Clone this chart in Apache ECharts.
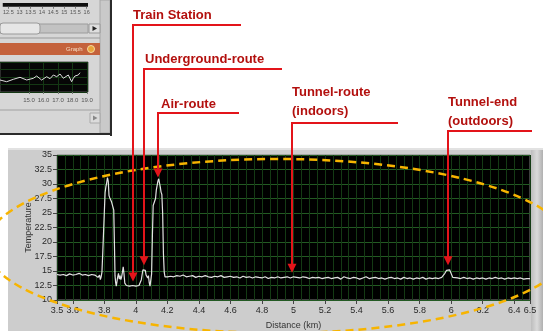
<!DOCTYPE html>
<html>
<head>
<meta charset="utf-8">
<script src="https://cdn.jsdelivr.net/npm/echarts@6/dist/echarts.min.js"></script>
<style>
  html, body { margin: 0; padding: 0; background: #ffffff; }
  #chart { width: 543px; height: 331px; }
</style>
</head>
<body>
<div id="chart"></div>
<script>
// Temperature trace along the route (distance in km, temperature in °C)
const distanceKm = [
  3.50, 3.52, 3.54, 3.56, 3.58, 3.60, 3.62, 3.64, 3.66, 3.68,
  3.70, 3.72, 3.74, 3.76, 3.77, 3.775, 3.78, 3.785, 3.79, 3.80,
  3.805, 3.81, 3.815, 3.82, 3.825, 3.83, 3.835, 3.84, 3.845, 3.85,
  3.855, 3.86, 3.864, 3.868, 3.872, 3.876, 3.88, 3.885, 3.89, 3.895,
  3.90, 3.905, 3.91, 3.915, 3.92, 3.925, 3.93, 3.935, 3.94, 3.95,
  3.96, 3.97, 3.98, 3.99, 4.00, 4.01, 4.02, 4.03, 4.035, 4.04,
  4.045, 4.05, 4.055, 4.06, 4.065, 4.07, 4.075, 4.08, 4.085, 4.09,
  4.095, 4.10, 4.105, 4.11, 4.115, 4.12, 4.125, 4.13, 4.135, 4.14,
  4.145, 4.15, 4.155, 4.16, 4.165, 4.17, 4.175, 4.18, 4.185, 4.19,
  4.20, 4.22, 4.24, 4.26, 4.28, 4.30, 4.32, 4.34, 4.36, 4.38,
  4.40, 4.42, 4.44, 4.46, 4.48, 4.50, 4.52, 4.54, 4.56, 4.58,
  4.60, 4.62, 4.64, 4.66, 4.68, 4.70, 4.72, 4.74, 4.76, 4.78,
  4.80, 4.82, 4.84, 4.86, 4.88, 4.90, 4.92, 4.94, 4.96, 4.98,
  5.00, 5.02, 5.04, 5.06, 5.08, 5.10, 5.12, 5.14, 5.16, 5.18,
  5.20, 5.22, 5.24, 5.26, 5.28, 5.30, 5.32, 5.34, 5.36, 5.38,
  5.40, 5.42, 5.44, 5.46, 5.48, 5.50, 5.52, 5.54, 5.56, 5.58,
  5.60, 5.62, 5.64, 5.66, 5.68, 5.70, 5.72, 5.74, 5.76, 5.78,
  5.80, 5.82, 5.84, 5.86, 5.88, 5.90, 5.92, 5.94, 5.95, 5.96,
  5.97, 5.98, 5.99, 6.00, 6.01, 6.02, 6.04, 6.06, 6.08, 6.10,
  6.12, 6.14, 6.16, 6.18, 6.20, 6.22, 6.24, 6.26, 6.28, 6.30,
  6.32, 6.34, 6.36, 6.38, 6.40, 6.42, 6.44, 6.46, 6.48, 6.50
];
const temperatureC = [
  14.4, 14.3, 14.4, 14.2, 14.5, 14.3, 14.4, 14.6, 14.3, 14.4,
  14.2, 14.4, 14.3, 13.9, 14.3, 13.5, 14.0, 14.8, 18.0, 25.0,
  28.5, 29.5, 30.2, 31.1, 30.5, 28.0, 27.6, 27.8, 27.0, 27.2,
  26.0, 25.5, 20.0, 14.2, 13.0, 12.4, 12.5, 14.0, 14.6, 13.6,
  14.2, 13.5, 14.0, 14.8, 15.7, 14.5, 12.9, 12.6, 12.5, 12.6,
  12.4, 12.6, 12.5, 12.6, 12.4, 12.6, 12.5, 12.4, 13.5, 14.4,
  15.2, 15.0, 15.5, 15.1, 14.3, 14.6, 13.8, 14.2, 13.0, 12.4,
  12.3, 14.5, 21.0, 26.3, 26.6, 26.1, 27.5, 29.0, 29.3, 30.5,
  30.9, 30.2, 29.5, 28.6, 28.2, 25.0, 18.0, 14.8, 14.0, 14.3,
  14.0, 14.1, 14.0, 14.2, 14.1, 14.3, 14.0, 14.1, 14.2, 13.9,
  14.1, 14.0, 14.2, 14.0, 13.9, 14.1, 14.0, 14.2, 13.9, 14.0,
  14.1, 13.9, 14.0, 13.8, 14.1, 13.9, 14.0, 13.8, 14.0, 13.9,
  13.8, 14.0, 13.7, 13.9, 13.8, 14.0, 13.8, 13.9, 14.0, 13.8,
  14.0, 13.9, 13.8, 14.0, 13.9, 13.7, 13.9, 13.8, 13.9, 13.7,
  13.8, 13.9, 13.7, 13.8, 13.9, 13.6, 14.0, 13.8, 13.7, 13.9,
  13.8, 13.6, 13.8, 14.0, 13.7, 13.8, 13.9, 13.7, 13.8, 13.6,
  13.8, 13.9, 13.7, 13.8, 13.6, 13.9, 13.7, 13.8, 13.6, 13.8,
  13.7, 13.9, 13.6, 13.8, 13.7, 13.8, 13.7, 13.9, 14.0, 14.6,
  15.1, 14.8, 15.2, 15.0, 13.9, 13.6, 13.8, 13.7, 13.9, 13.7,
  13.8, 13.6, 13.8, 13.7, 13.8, 13.6, 13.8, 13.7, 13.9, 13.7,
  13.8, 13.6, 13.8, 13.7, 13.8, 13.7, 13.8, 13.6, 13.7, 13.7
];
const distanceTicks = [3.5, 3.6, 3.8, 4, 4.2, 4.4, 4.6, 4.8, 5, 5.2, 5.4, 5.6, 5.8, 6, 6.2, 6.4, 6.5];

// Callouts: text, distance of the arrow and the temperature its tip points to
const calloutTexts = ['Train Station', 'Underground-route', 'Air-route', 'Tunnel-route\n(indoors)', 'Tunnel-end\n(outdoors)'];
const calloutKm = [3.984, 4.054, 4.143, 4.99, 5.978];
const calloutTipC = [13.2, 16.0, 31.1, 14.7, 16.0];

// Small preview window (top left): its tick labels and wave
const previewTopTicks = [12.5, 13, 13.5, 14, 14.5, 15, 15.5, 16];
const previewTicks = [15, 16, 17, 18, 19];
const previewPos = [13.0, 13.46, 13.92, 14.38, 14.84, 15.3, 15.53, 15.87, 16.22, 16.45, 16.68, 16.91, 17.14, 17.37, 17.48, 17.71, 17.83, 17.94, 18.06, 18.17, 18.4, 18.52];
const previewLevel = [4.0, 3.43, 4.23, 4.9, 4.0, 4.57, 5.33, 4.0, 5.1, 4.43, 5.67, 5.1, 6.0, 4.57, 4.0, 5.67, 6.0, 3.43, 4.57, 5.33, 5.67, 6.43];

const FONT = "'Liberation Sans', Arial, sans-serif";
const chart = echarts.init(document.getElementById('chart'), null, { renderer: 'canvas' });

const traceData = distanceKm.map((d, i) => [d, temperatureC[i]]);
const previewData = previewPos.map((d, i) => [d, previewLevel[i]]);

// Panel and preview window decorations (drawn behind the plots)
const backdrop = [
  { type: 'rect', z: -10, shape: { x: 8, y: 148, width: 535, height: 183 }, style: { fill: '#cdcdcd' } },
  { type: 'rect', z: -9, shape: { x: 8, y: 148, width: 535, height: 2 }, style: { fill: '#e2e2e2' } },
  { type: 'rect', z: -9, shape: { x: 531, y: 150, width: 12, height: 181 },
    style: { fill: new echarts.graphic.LinearGradient(0, 0, 1, 0, [
      { offset: 0, color: '#bdbdbd' }, { offset: 0.5, color: '#dadada' }, { offset: 1, color: '#b0b0b0' }]) } },
  // preview window
  { type: 'rect', z: -10, shape: { x: 0, y: 0, width: 111, height: 134 }, style: { fill: '#d6d6d6' } },
  { type: 'rect', z: -9, shape: { x: 100, y: 0, width: 10, height: 133 }, style: { fill: '#c9c9c9', stroke: '#a8a8a8', lineWidth: 1 } },
  { type: 'rect', z: -8, shape: { x: 110, y: 0, width: 2, height: 136 }, style: { fill: '#2b2b2b' } },
  { type: 'rect', z: -8, shape: { x: 0, y: 133, width: 112, height: 2 }, style: { fill: '#2b2b2b' } },
  { type: 'rect', z: -8, shape: { x: 0, y: 24, width: 88, height: 9 }, style: { fill: '#c2c2c2', stroke: '#9c9c9c', lineWidth: 1 } },
  { type: 'rect', z: -7, shape: { x: 0, y: 23, width: 40, height: 11, r: 3 }, style: { fill: '#e6e6e6', stroke: '#9a9a9a', lineWidth: 1 } },
  { type: 'rect', z: -7, shape: { x: 89, y: 24, width: 11, height: 9 }, style: { fill: '#dedede', stroke: '#999', lineWidth: 1 } },
  { type: 'polygon', z: -6, shape: { points: [[92.5, 26], [92.5, 31], [97, 28.5]] }, style: { fill: '#222' } },
  { type: 'line', z: -8, shape: { x1: 0, y1: 38, x2: 100, y2: 38 }, style: { stroke: '#9a9a9a', lineWidth: 1 } },
  { type: 'rect', z: -8, shape: { x: 0, y: 43, width: 100, height: 12 }, style: { fill: '#c4623c' } },
  { type: 'text', z: -7, style: { text: 'Graph', x: 66, y: 49, font: '6px ' + FONT, fill: '#f4dcc4', verticalAlign: 'middle' } },
  { type: 'circle', z: -7, shape: { cx: 91, cy: 49, r: 3.5 }, style: { fill: '#e9a43a', stroke: '#f6d9a0', lineWidth: 1 } },
  { type: 'line', z: -8, shape: { x1: 0, y1: 110, x2: 100, y2: 110 }, style: { stroke: '#a0a0a0', lineWidth: 1 } },
  { type: 'rect', z: -7, shape: { x: 90, y: 113, width: 10, height: 10 }, style: { fill: '#dcdcdc', stroke: '#aaa', lineWidth: 1 } },
  { type: 'polygon', z: -6, shape: { points: [[93, 115.5], [93, 120.5], [97.5, 118]] }, style: { fill: '#888' } }
];

const option = {
  animation: false,
  backgroundColor: '#ffffff',
  grid: [
    { left: 57, top: 155, width: 473, height: 149, show: true, backgroundColor: '#000000', borderColor: '#7c7c7c', borderWidth: 1 },
    { left: 0, top: -12, width: 88, height: 15, show: true, backgroundColor: '#0e0e0e', borderWidth: 0 },
    { left: 0, top: 62, width: 88, height: 30, show: true, backgroundColor: '#060606', borderColor: '#555', borderWidth: 1 }
  ],
  xAxis: [
    {
      // labelled distance axis
      gridIndex: 0, type: 'value', min: 3.5, max: 6.5, position: 'bottom',
      name: 'Distance (km)', nameLocation: 'middle', nameGap: 21,
      nameTextStyle: { fontSize: 9, color: '#333', fontFamily: FONT },
      axisLine: { show: false },
      axisTick: { show: true, length: 4, customValues: distanceTicks, lineStyle: { color: '#444' } },
      axisLabel: { customValues: distanceTicks, fontSize: 9, color: '#2a2a2a', margin: 6, fontFamily: FONT },
      splitLine: { show: false }
    },
    {
      gridIndex: 1, type: 'value', min: 12.25, max: 16.06,
      axisLine: { show: false },
      axisTick: { show: true, length: 2, customValues: previewTopTicks, lineStyle: { color: '#777' } },
      axisLabel: { customValues: previewTopTicks, fontSize: 5.5, color: '#555', margin: 3, fontFamily: FONT },
      splitLine: { show: false }
    },
    {
      gridIndex: 2, type: 'value', min: 13, max: 19.07, interval: 0.5,
      axisLine: { show: false },
      axisTick: { show: true, length: 2, customValues: previewTicks, lineStyle: { color: '#777' } },
      axisLabel: { customValues: previewTicks, formatter: v => v.toFixed(1), fontSize: 6, color: '#555', margin: 5, fontFamily: FONT },
      splitLine: { show: true, lineStyle: { color: '#143814', width: 1 } }
    },
    {
      // fine distance grid every 0.05 km
      gridIndex: 0, type: 'value', min: 3.5, max: 6.5, interval: 0.05, position: 'top',
      axisLine: { show: false }, axisTick: { show: false }, axisLabel: { show: false },
      splitLine: { show: true, lineStyle: { color: '#143a14', width: 1 } }
    }
  ],
  yAxis: [
    {
      gridIndex: 0, type: 'value', min: 10, max: 35, interval: 2.5,
      name: 'Temperature', nameLocation: 'middle', nameGap: 24, nameMoveOverlap: false,
      nameTextStyle: { fontSize: 9, color: '#333', fontFamily: FONT },
      axisLine: { show: false },
      axisTick: { show: true, length: 4, lineStyle: { color: '#444' } },
      axisLabel: { fontSize: 9, color: '#2a2a2a', margin: 5, fontFamily: FONT },
      splitLine: { show: true, lineStyle: { color: '#235a23', width: 1 } }
    },
    { gridIndex: 1, type: 'value', min: 0, max: 10, show: false },
    {
      gridIndex: 2, type: 'value', min: 0, max: 10, interval: 2.5,
      axisLine: { show: false }, axisTick: { show: false }, axisLabel: { show: false },
      splitLine: { show: true, lineStyle: { color: '#143814', width: 1 } }
    }
  ],
  series: [
    {
      type: 'line', xAxisIndex: 0, yAxisIndex: 0, data: traceData,
      showSymbol: false, symbol: 'none',
      lineStyle: { color: '#e2e2e2', width: 1.2 }, z: 3
    },
    {
      type: 'line', xAxisIndex: 2, yAxisIndex: 2, data: previewData,
      showSymbol: false, symbol: 'none',
      lineStyle: { color: '#dcdcdc', width: 1 }, z: 3
    }
  ],
  graphic: { elements: backdrop }
};

chart.setOption(option);

// Callout layout: label position and the red bar under each label
const calloutLayout = [
  { textX: 133, textY: 15, barY: 25, barEnd: 241 },
  { textX: 145, textY: 59, barY: 69, barEnd: 282 },
  { textX: 161, textY: 104, barY: 113, barEnd: 239 },
  { textX: 292, textY: 92, barY: 123, barEnd: 398 },
  { textX: 448, textY: 102, barY: 131, barEnd: 532 }
];

const overlay = [];
// Dashed highlight ellipse
overlay.push({
  type: 'ellipse', z: 50,
  shape: { cx: 278, cy: 246, rx: 292, ry: 87 },
  style: { fill: 'none', stroke: '#f7b400', lineWidth: 2.5, lineDash: [8, 5] }
});

calloutTexts.forEach((txt, i) => {
  const lay = calloutLayout[i];
  const tip = chart.convertToPixel({ gridIndex: 0 }, [calloutKm[i], calloutTipC[i]]);
  const x = Math.round(tip[0]);
  const tipY = tip[1];
  txt.split('\n').forEach((line, k) => {
    overlay.push({
      type: 'text', z: 100,
      style: { text: line, x: lay.textX, y: lay.textY + k * 19, font: 'bold 13px ' + FONT, fill: '#b3100e', verticalAlign: 'middle' }
    });
  });
  overlay.push({ type: 'line', z: 100, shape: { x1: x - 1, y1: lay.barY, x2: lay.barEnd, y2: lay.barY }, style: { stroke: '#e3141a', lineWidth: 2 } });
  overlay.push({ type: 'line', z: 100, shape: { x1: x, y1: lay.barY - 1, x2: x, y2: tipY - 8 }, style: { stroke: '#e3141a', lineWidth: 2 } });
  overlay.push({ type: 'polygon', z: 101, shape: { points: [[x - 4.5, tipY - 9], [x + 4.5, tipY - 9], [x, tipY]] }, style: { fill: '#e3141a' } });
});

chart.setOption({ graphic: { elements: backdrop.concat(overlay) } });
</script>
</body>
</html>
